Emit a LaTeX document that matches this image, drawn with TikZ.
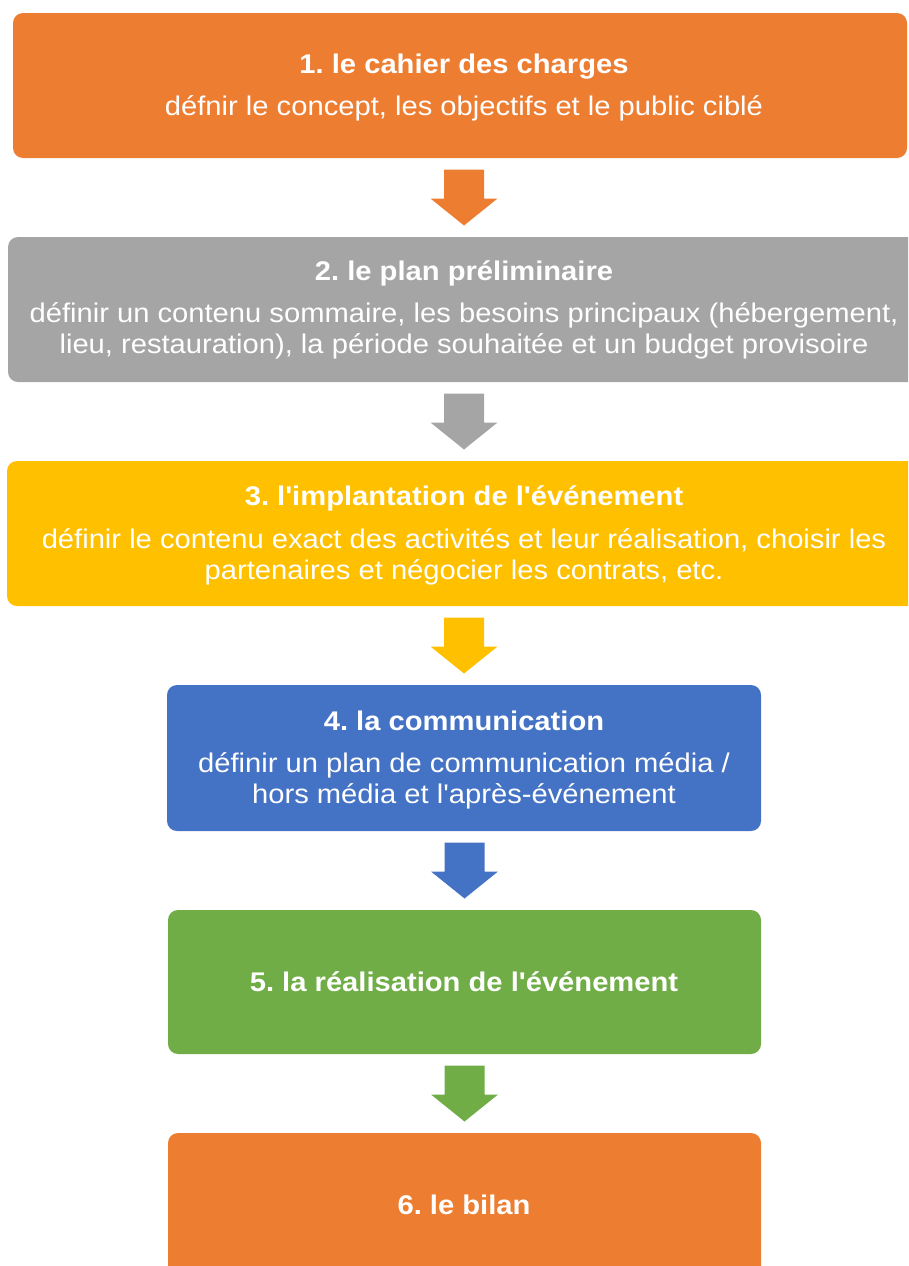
\documentclass[tikz,border=0pt]{standalone}
\usepackage{fontspec}
% plain family without TeX ligatures, so that ' stays a straight quote
\newfontfamily\flowfont[FakeStretch=1.08]{Liberation Sans}
\usetikzlibrary{calc}
\definecolor{cOrange}{HTML}{ED7D31}
\definecolor{cGray}{HTML}{A5A5A5}
\definecolor{cYellow}{HTML}{FFC000}
\definecolor{cBlue}{HTML}{4472C4}
\definecolor{cGreen}{HTML}{70AD47}
\frenchspacing
\begin{document}
\begin{tikzpicture}[x=1pt,y=-1pt,
  box/.style={rectangle, rounded corners=10pt, inner sep=0pt, minimum height=145pt},
  ttl/.style={anchor=base, text=white, inner sep=0pt, font=\flowfont\fontsize{27}{31}\selectfont\bfseries},
  desc/.style={anchor=base, text=white, inner sep=0pt, align=center, font=\flowfont\fontsize{27}{31}\selectfont},
  blockarrow/.style={shift={(#1)}}
]
\useasboundingbox (0,0) rectangle (908,1266);
\clip (0,0) rectangle (908,1266);

% step boxes
\node[box, fill=cOrange, minimum width=894pt] (b1) at (460,85.5) {};
\node[box, fill=cGray, minimum width=912pt] (b2) at (464,309.5) {};
\node[box, fill=cYellow, minimum width=914pt] (b3) at (464,533.5) {};
\node[box, fill=cBlue, minimum width=594pt, minimum height=146pt] (b4) at (464,758) {};
\node[box, fill=cGreen, minimum width=593pt, minimum height=144pt] (b5) at (464.5,982) {};
\node[box, fill=cOrange, minimum width=593pt] (b6) at (464.5,1205.5) {};

% step texts (multi-line nodes sit on the baseline of their last line)
\node[ttl] (t1) at (464,73) {1. le cahier des charges};
\node[desc] (d1) at (464,115) {défnir le concept, les objectifs et le public ciblé};
\node[ttl] (t2) at (464,280) {2. le plan préliminaire};
\node[desc] (d2) at (464,353) {définir un contenu sommaire, les besoins principaux (hébergement,\\lieu, restauration), la période souhaitée et un budget provisoire};
\node[ttl] (t3) at (464,505) {3. l'implantation de l'événement};
\node[desc] (d3) at (464,579) {définir le contenu exact des activités et leur réalisation, choisir les\\partenaires et négocier les contrats, etc.};
\node[ttl] (t4) at (464,730) {4. la communication};
\node[desc] (d4) at (464,803) {définir un plan de communication média /\\hors média et l'après-événement};
\node[ttl] (t5) at (464,991) {5. la réalisation de l'événement};
\node[ttl] (t6) at (464,1214) {6. le bilan};

% block arrows, centred in the gap between consecutive boxes
\coordinate (a1) at ($(b2.north)!0.5!(b2.north |- b1.south)$);
\coordinate (a2) at ($(b3.north)!0.5!(b3.north |- b2.south)$);
\coordinate (a3) at ($(b4.north)!0.5!(b4.north |- b3.south)$);
\coordinate (a4) at ($(b5.north)!0.5!(b5.north |- b4.south)$);
\coordinate (a5) at ($(b6.north)!0.5!(b6.north |- b5.south)$);
\foreach \a/\c in {a1/cOrange, a2/cGray, a3/cYellow, a4/cBlue, a5/cGreen}{
  \fill[\c, blockarrow=\a] (-20,-28) -- (20,-28) -- (20,1) -- (33.5,1)
    -- (0,28) -- (-33.5,1) -- (-20,1) -- cycle;
}
\end{tikzpicture}
\end{document}
